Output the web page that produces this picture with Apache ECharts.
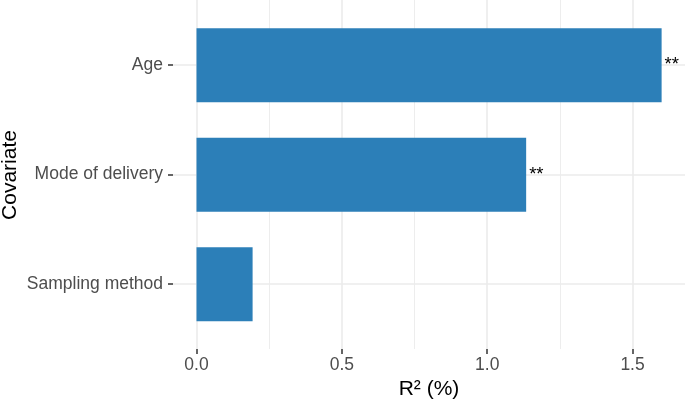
<!DOCTYPE html>
<html>
<head>
<meta charset="utf-8">
<script src="https://cdn.jsdelivr.net/npm/echarts@6/dist/echarts.min.js"></script>
<style>html,body{margin:0;padding:0;background:#fff;overflow:hidden;width:685px;height:401px}#c{width:800px;height:401px}</style>
</head>
<body>
<div id="c"></div>
<script>
const categories = ['Age', 'Mode of delivery', 'Sampling method'];
const r2Values = [1.6, 1.134, 0.193];
const significance = ['**', '**', ''];
const xTicks = [0, 0.5, 1.0, 1.5];

const FONT = '"Liberation Sans", Arial, Helvetica, sans-serif';
const GRID = '#ebebeb';
const PX_PER_UNIT = 290.7;
const X0 = 196.5;

const chart = echarts.init(document.getElementById('c'), null, {renderer: 'canvas'});
chart.setOption({
  animation: false,
  backgroundColor: '#fff',
  grid: [
    {left: 173, width: 512, top: 65, height: 219, containLabel: false},
    {left: X0, width: PX_PER_UNIT * 2, top: 0, height: 349, containLabel: false},
    {left: X0, width: PX_PER_UNIT * 2, top: 10.5, height: 328.5, containLabel: false}
  ],
  xAxis: [
    {gridIndex: 0, type: 'value', show: false, min: 0, max: 1},
    {gridIndex: 1, type: 'value', min: 0, max: 2, interval: 0.5,
      axisLine: {show: false},
      axisTick: {show: true, length: 5, lineStyle: {color: '#333', width: 1.5}},
      axisLabel: {fontFamily: FONT, fontSize: 17.5, color: '#4d4d4d', margin: 7,
        formatter: v => xTicks.some(t => Math.abs(t - v) < 1e-9) ? v.toFixed(1) : ''},
      splitLine: {show: true, lineStyle: {color: GRID, width: 1.6}},
      minorTick: {show: false, splitNumber: 2},
      minorSplitLine: {show: true, lineStyle: {color: GRID, width: 0.9}}
    },
    {gridIndex: 2, type: 'value', show: false, min: 0, max: 2}
  ],
  yAxis: [
    {gridIndex: 0, type: 'value', min: 0, max: categories.length - 1, interval: 1, inverse: true,
      axisLine: {show: false},
      axisTick: {show: true, length: 5, lineStyle: {color: '#333', width: 1.5}},
      axisLabel: {fontFamily: FONT, fontSize: 17.5, color: '#4d4d4d', margin: 10,
        formatter: v => categories[Math.round(v)] || ''},
      splitLine: {show: true, lineStyle: {color: GRID, width: 1.6}}
    },
    {gridIndex: 1, type: 'value', show: false, min: 0, max: 1},
    {gridIndex: 2, type: 'category', data: categories, inverse: true, show: false}
  ],
  series: [{
    type: 'bar',
    xAxisIndex: 2, yAxisIndex: 2,
    barWidth: 74,
    data: r2Values,
    itemStyle: {color: '#2c7fb8'},
    label: {
      show: true, position: 'right', distance: 3,
      fontFamily: FONT, fontSize: 18.5, color: '#000',
      formatter: p => significance[p.dataIndex]
    }
  }],
  graphic: [
    {type: 'text', x: 429, y: 389, style: {text: 'R² (%)', font: '21px ' + FONT, fill: '#000', textAlign: 'center', textVerticalAlign: 'middle'}},
    {type: 'text', x: 10, y: 175, rotation: Math.PI / 2, style: {text: 'Covariate', font: '21px ' + FONT, fill: '#000', textAlign: 'center', textVerticalAlign: 'middle'}}
  ]
});
</script>
</body>
</html>
